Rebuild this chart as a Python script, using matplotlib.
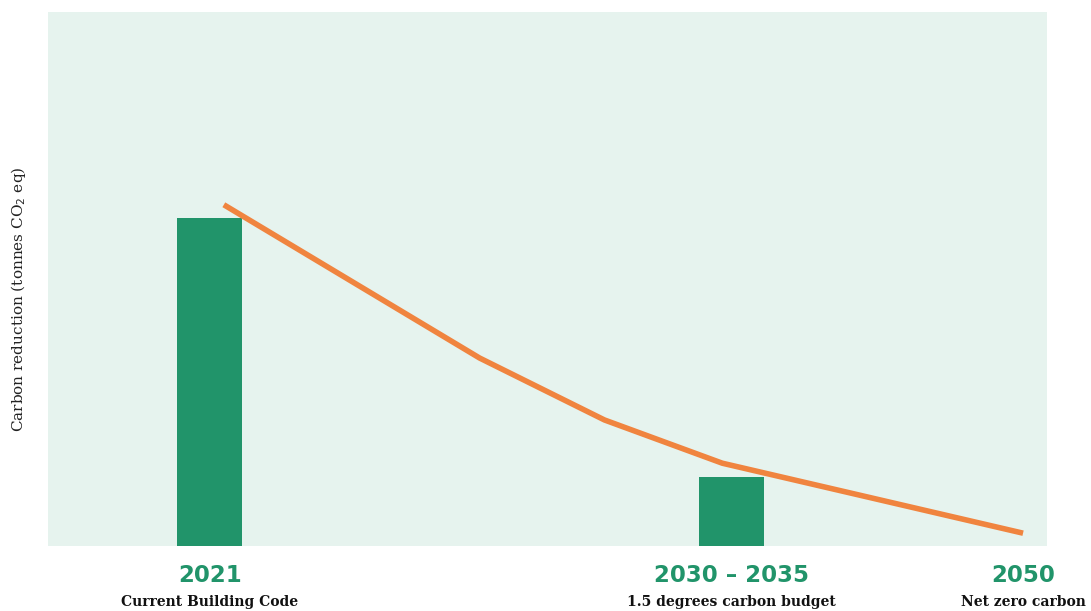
import matplotlib
matplotlib.use('Agg')
import matplotlib.pyplot as plt

# bar positions / heights (arbitrary units, axis 0-100)
BAR_X      = [16.2, 68.4]
BAR_H      = [61.4, 12.9]
BAR_W      = 6.5
LINE_X     = [17.6, 43.2, 55.7, 67.5, 97.6]
LINE_Y     = [63.9, 35.2, 23.6, 15.5, 2.4]
LABEL_X    = [16.2, 68.4, 97.6]
YEARS      = ['2021', '2030 – 2035', '2050']
SUBLABELS  = ['Current Building Code', '1.5 degrees carbon budget', 'Net zero carbon']

GREEN  = '#21946a'
ORANGE = '#f0843f'
BG     = '#e6f3ee'

fig = plt.figure(figsize=(10.91, 6.11), dpi=100)
ax = fig.add_axes([0.044, 0.1064, 0.9157, 0.874])
ax.set_facecolor(BG)

ax.bar(BAR_X, BAR_H, BAR_W, color=GREEN, zorder=2)
ax.plot(LINE_X, LINE_Y, color=ORANGE, lw=4, solid_capstyle='butt', zorder=3)

ax.set_xlim(0, 100)
ax.set_ylim(0, 100)
ax.set_xticks([])
ax.set_yticks([])
for s in ax.spines.values():
    s.set_visible(False)

for x, yr, sub in zip(LABEL_X, YEARS, SUBLABELS):
    ax.annotate(yr, (x, 0), xytext=(0, -21), textcoords='offset points',
                ha='center', va='center', fontsize=16.5, fontweight='bold',
                color=GREEN, family='DejaVu Sans', annotation_clip=False)
    ax.annotate(sub, (x, 0), xytext=(0, -40), textcoords='offset points',
                ha='center', va='center', fontsize=10, fontweight='bold',
                color='#111111', family='DejaVu Serif', annotation_clip=False)

fig.text(0.0165, 0.51, 'Carbon reduction (tonnes CO$_2$ eq)', rotation=90,
         ha='center', va='center', fontsize=11, color='#222222',
         family='DejaVu Serif')

fig.savefig('out.png', dpi=100)
